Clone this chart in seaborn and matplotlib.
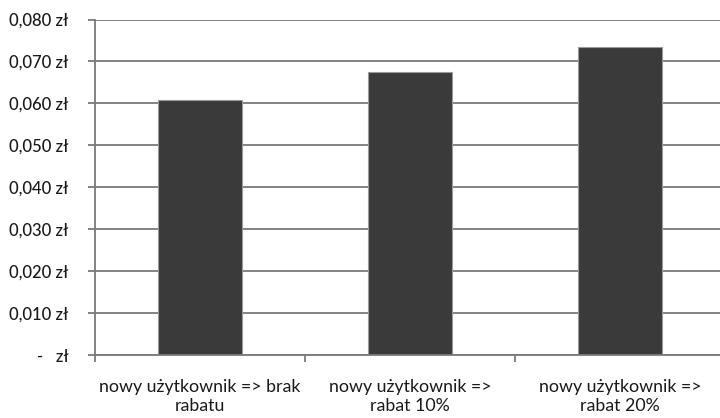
import matplotlib
matplotlib.use("Agg")
import matplotlib.pyplot as plt
import seaborn as sns
import pandas as pd
from matplotlib.ticker import FixedLocator

categories = [
    "nowy użytkownik => brak\nrabatu",
    "nowy użytkownik =>\nrabat 10%",
    "nowy użytkownik =>\nrabat 20%",
]
values = [0.0608, 0.0675, 0.0735]
y_ticks = [0.0, 0.01, 0.02, 0.03, 0.04, 0.05, 0.06, 0.07, 0.08]
y_tick_labels = ["-   zł", "0,010 zł", "0,020 zł", "0,030 zł", "0,040 zł",
                 "0,050 zł", "0,060 zł", "0,070 zł", "0,080 zł"]

sns.set_theme(style="white")
plt.rcParams["font.family"] = ["Lato", "DejaVu Sans"]

df = pd.DataFrame({"kategoria": categories, "koszt": values})

W, H = 720, 418
fig = plt.figure(figsize=(W / 100, H / 100), dpi=100)
# plot area runs slightly past the right edge of the figure
ax = fig.add_axes([95 / W, (H - 355) / H, 630 / W, 335.5 / H])

grid_color = "#7a7a7a"
ax.set_axisbelow(True)
ax.yaxis.grid(True, color=grid_color, linewidth=1.3)

sns.barplot(data=df, x="kategoria", y="koszt", ax=ax, color="#3a3a3a",
            saturation=1, width=0.4, edgecolor="#9a9a9a", linewidth=0.8)

ax.set_xlim(-0.5, 2.5)
ax.set_ylim(0, 0.08)
ax.set_yticks(y_ticks)
ax.set_yticklabels(y_tick_labels)
ax.set_xlabel("")
ax.set_ylabel("")

for side in ["top", "right"]:
    ax.spines[side].set_visible(False)
for side in ["left", "bottom"]:
    ax.spines[side].set_color(grid_color)
    ax.spines[side].set_linewidth(1.3)

ax.tick_params(axis="y", which="major", left=True, length=5, width=1.3,
               color=grid_color, pad=14, labelsize=12, labelcolor="#1a1a1a")
ax.tick_params(axis="x", which="major", bottom=False, length=0, pad=17,
               labelsize=12.8, labelcolor="#1a1a1a")
ax.xaxis.set_minor_locator(FixedLocator([-0.5, 0.5, 1.5, 2.5]))
ax.tick_params(axis="x", which="minor", bottom=True, length=5, width=1.3,
               color=grid_color)

for lab in ax.get_yticklabels():
    lab.set_fontweight("medium")
for lab in ax.get_xticklabels():
    lab.set_linespacing(1.25)

fig.savefig("out.png", dpi=100)
